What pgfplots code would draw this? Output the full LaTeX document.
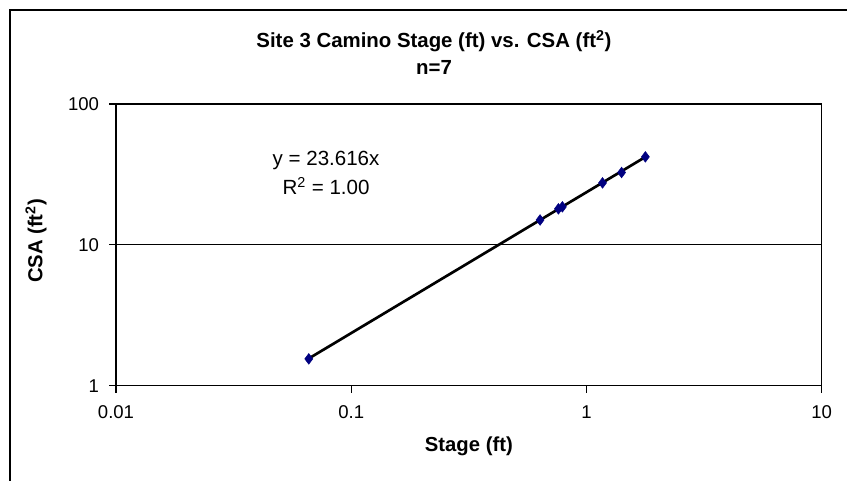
\documentclass[border=0pt]{standalone}
\usepackage{pgfplots}
\pgfplotsset{compat=1.18}
\usepackage{fontspec}
\setmainfont{Liberation Sans}
\definecolor{navy}{RGB}{0,0,128}
\begin{document}
\begin{tikzpicture}
\useasboundingbox (0,0) rectangle (635.25pt,360.75pt);
\draw[line width=1.5pt,black] (7.5pt,-5pt) -- (7.5pt,353.25pt) -- (640pt,353.25pt);
\begin{axis}[
  at={(87pt,71.5pt)}, anchor=south west,
  scale only axis, width=529.3pt, height=211.3pt,
  xmode=log, ymode=log,
  xmin=0.01, xmax=10, ymin=1, ymax=100,
  xtick={0.01,0.1,1,10}, xticklabels={0.01,0.1,1,10},
  ytick={1,10,100}, yticklabels={1,10,100},
  xtick pos=bottom, ytick pos=left,
  xminorticks=false, yminorticks=false,
  tick align=outside, major tick length=5.25pt,
  tick style={black, line width=0.9pt},
  axis line style={black, line width=0.9pt},
  ymajorgrids, grid style={black, line width=0.8pt},
  ticklabel style={font=\fontsize{13.9}{16}\selectfont},
  xticklabel style={yshift=-6pt},
  yticklabel style={xshift=-4pt},
  /pgf/number format/assume math mode=true,
  xlabel={\textbf{Stage (ft)}},
  ylabel={\textbf{CSA (ft\textsuperscript{2})}},
  label style={font=\fontsize{15.2}{18}\selectfont},
  xlabel style={at={(axis description cs:0.5,-0.215)}, anchor=center},
  ylabel style={at={(axis description cs:-0.1134,0.5137)}, anchor=center},
  title={\textbf{Site 3 Camino Stage (ft) vs. CSA (ft\textsuperscript{2})}\\\textbf{n=7}},
  title style={at={(axis description cs:0.4506,1.155)}, anchor=center, align=center, font=\fontsize{15.3}{20}\selectfont},
  clip=false,
]
\addplot[only marks, mark=diamond*, mark size=4pt, mark options={fill=navy, draw=navy}]
  coordinates {(0.066,1.55) (0.635,15.0) (0.76,18.0) (0.79,18.6) (1.17,27.5) (1.41,32.6) (1.78,42.1)};
\addplot[black, line width=2pt, no marks] coordinates {(0.066,1.5587) (1.78,42.036)};
\node[font=\fontsize{15.4}{21.75}\selectfont, align=center, anchor=base] at (rel axis cs:0.2977,0.6795) {y = 23.616x\\R\textsuperscript{2} = 1.00};
\end{axis}
\end{tikzpicture}
\end{document}
